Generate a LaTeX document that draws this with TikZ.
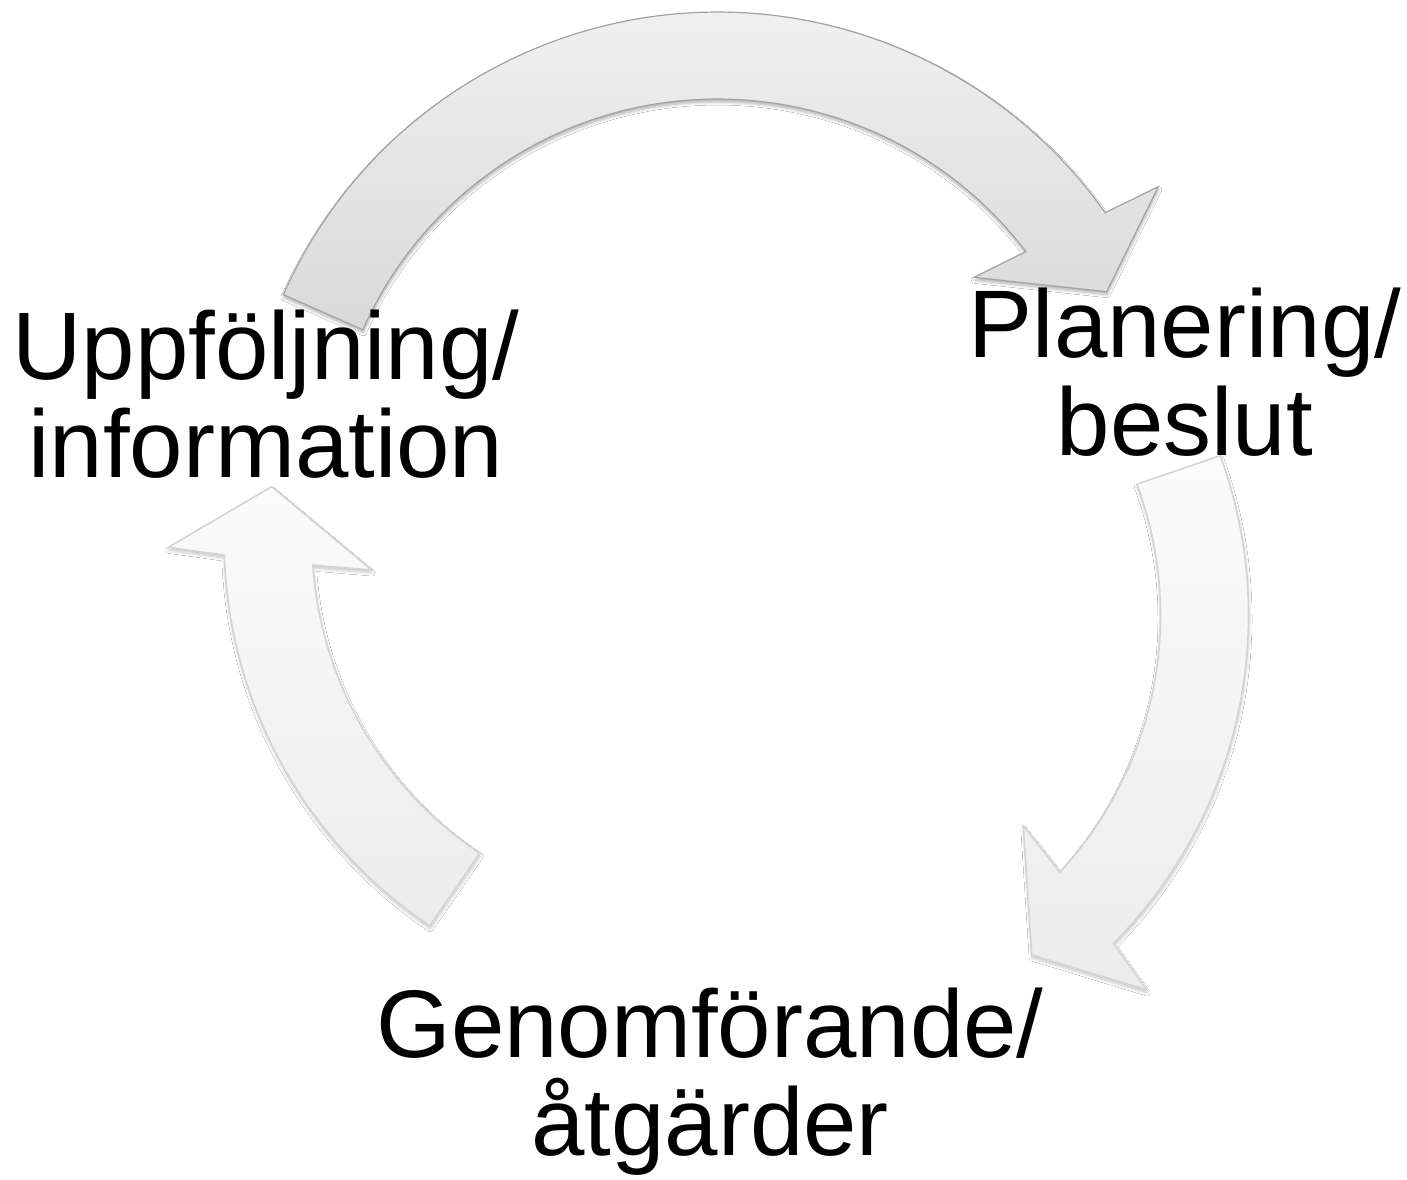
\documentclass[tikz,border=0pt]{standalone}
\usepackage{fontspec}
\setmainfont{Liberation Sans}
\usetikzlibrary{shadows.blur}
\newcommand\twolines[2]{\vtop{\baselineskip=98.5pt\lineskiplimit=0pt\lineskip=0pt\halign{\hfil##\hfil\cr#1\cr#2\cr}}}
\begin{document}
\begin{tikzpicture}[x=1pt,y=-1pt,
  lbl/.style={font=\fontsize{96}{98.5}\selectfont, inner sep=0pt, anchor=base, text=black},
  toparrow/.style={draw=black!36, line width=1.2pt, line join=miter,
    top color=black!4, bottom color=black!15,
    blur shadow={shadow xshift=0.5pt, shadow yshift=-3pt, shadow blur radius=3pt, shadow blur steps=6, shadow opacity=30}},
  sidearrow/.style={draw=black!17, line width=1.6pt, line join=miter,
    top color=black!1.5, bottom color=black!7.5,
    blur shadow={shadow xshift=0.5pt, shadow yshift=-3pt, shadow blur radius=3pt, shadow blur steps=6, shadow opacity=22}}
]
\useasboundingbox (0,0) rectangle (1407,1179);
\fill[white] (0,0) rectangle (1407,1179);

% top arrow: Uppfoljning -> Planering
\path[toparrow] (283.3,294.7) arc[start angle=-156.1, end angle=-35.3, radius=475]
  -- (1158.3,186.7) -- (1106.7,291.7) -- (974,277.3) -- (1025.9,251.6)
  arc[start angle=-37.36, end angle=-156.08, radius=388] -- cycle;

% right arrow: Planering -> Genomforande
\path[sidearrow] (1220.2,455.7) arc[start angle=-20.08, end angle=44.78, radius=465.5]
  -- (1146.7,990) -- (1031.7,955) -- (1023.3,826) -- (1059.8,872.2)
  arc[start angle=42.84, end angle=-20.37, radius=377.5] -- cycle;

% left arrow: Genomforande -> Uppfoljning
\path[sidearrow] (429.7,925.7) arc[start angle=123.9, end angle=178.1, radius=465]
  -- (168.3,547.3) -- (271.7,486.7) -- (371.7,570) -- (312.9,565.1)
  arc[start angle=176.13, end angle=123.7, radius=377] -- cycle;

\node[lbl] (uppf) at (266,379.3) {\twolines{Uppföljning/}{information}};
\node[lbl] (plan) at (1185,357.3) {\twolines{Planering/}{beslut}};
\node[lbl] (genom) at (710,1057.3) {\twolines{Genomförande/}{åtgärder}};
\end{tikzpicture}
\end{document}
